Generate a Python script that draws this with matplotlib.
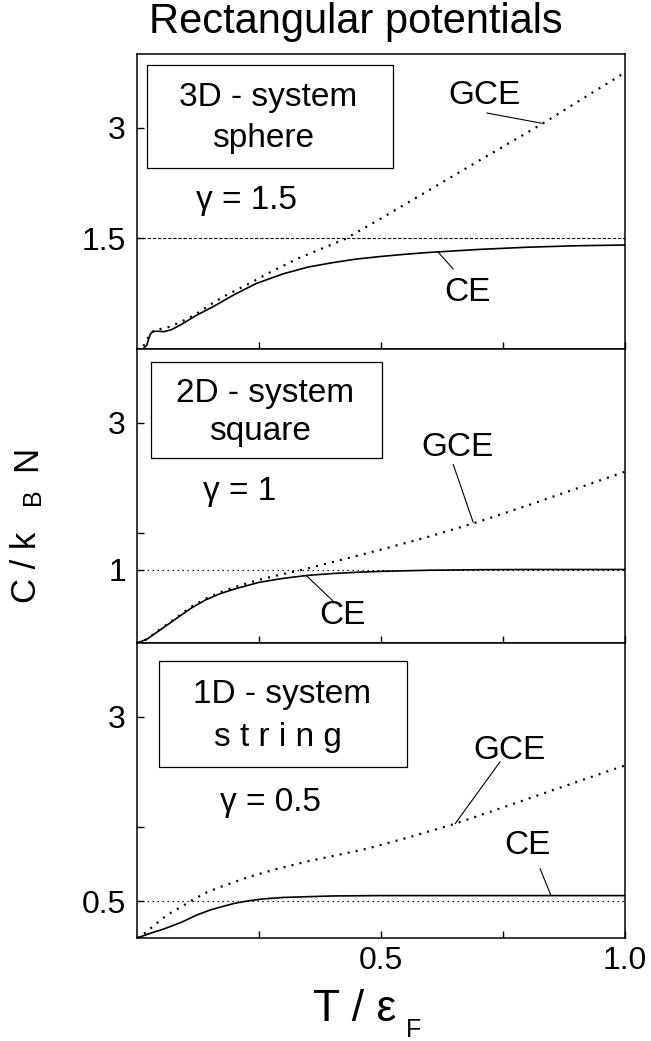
import matplotlib
matplotlib.use('Agg')
import matplotlib.pyplot as plt
from matplotlib.patches import Rectangle

plt.rcParams['font.family'] = ['Liberation Sans', 'DejaVu Sans']

# ---- data (T / eps_F , C / k_B N) ----
# 3D - system, sphere
x_ce_3d = [0.0, 0.012, 0.02, 0.027, 0.033, 0.045, 0.055, 0.07, 0.09, 0.12, 0.156, 0.20,
           0.245, 0.30, 0.35, 0.40, 0.45, 0.50, 0.55, 0.60, 0.70, 0.80, 0.90, 1.0]
y_ce_3d = [0.0, 0.0, 0.05, 0.2, 0.24, 0.24, 0.235, 0.26, 0.33, 0.45, 0.574, 0.74,
           0.89, 1.02, 1.11, 1.17, 1.22, 1.255, 1.285, 1.31, 1.35, 1.38, 1.40, 1.41]
x_gce_3d = [0.0, 0.01, 0.018, 0.03, 0.047, 0.066, 0.084, 0.10, 0.12, 0.15, 0.18, 0.225,
            0.27, 0.327, 0.426, 0.5, 0.6, 0.7, 0.832, 0.9, 1.0]
y_gce_3d = [0.0, 0.0, 0.1, 0.23, 0.27, 0.30, 0.35, 0.40, 0.47, 0.60, 0.72, 0.87,
            1.03, 1.22, 1.49, 1.77, 2.16, 2.55, 3.06, 3.34, 3.75]

# 2D - system, square
x_ce_2d = [0.0, 0.02, 0.05, 0.08, 0.11, 0.14, 0.17, 0.2, 0.25, 0.3, 0.35, 0.4, 0.45,
           0.5, 0.6, 0.7, 0.8, 1.0]
y_ce_2d = [0.0, 0.05, 0.19, 0.33, 0.47, 0.585, 0.67, 0.735, 0.825, 0.88, 0.92, 0.945,
           0.962, 0.975, 0.99, 0.997, 1.0, 1.0]
x_gce_2d = [0.0, 0.02, 0.05, 0.08, 0.11, 0.14, 0.17, 0.2, 0.25, 0.3, 0.341, 0.4, 0.5,
            0.6, 0.7, 0.8, 0.9, 1.0]
y_gce_2d = [0.0, 0.05, 0.2, 0.34, 0.49, 0.60, 0.69, 0.76, 0.86, 0.94, 1.0, 1.10, 1.27,
            1.45, 1.65, 1.87, 2.10, 2.33]

# 1D - system, string
x_ce_1d = [0.0, 0.03, 0.054, 0.09, 0.122, 0.15, 0.177, 0.2, 0.225, 0.259, 0.3, 0.35,
           0.4, 0.5, 0.6, 0.8, 1.0]
y_ce_1d = [0.0, 0.07, 0.12, 0.21, 0.31, 0.38, 0.43, 0.47, 0.50, 0.53, 0.55, 0.56,
           0.57, 0.575, 0.575, 0.575, 0.575]
x_gce_1d = [0.0, 0.017, 0.035, 0.061, 0.09, 0.115, 0.14, 0.17, 0.2, 0.225, 0.283, 0.35,
            0.471, 0.56, 0.652, 0.75, 0.85, 1.0]
y_gce_1d = [0.0, 0.07, 0.17, 0.31, 0.42, 0.52, 0.61, 0.69, 0.76, 0.82, 0.93, 1.04,
            1.21, 1.37, 1.55, 1.77, 2.0, 2.34]

gammas = [1.5, 1, 0.5]
gamma_labels = ['1.5', '1', '0.5']
box_lines = [('3D - system', 'sphere'), ('2D - system', 'square'), ('1D - system', 's t r i n g')]

W, H = 651, 1041
fig = plt.figure(figsize=(W / 100, H / 100), dpi=100)

def fx(p):
    return p / W

def fy(p):
    return 1 - p / H

# layout per panel (pixel based)
panels = [
    dict(top=54, bot=349, x_ce=x_ce_3d, y_ce=y_ce_3d, x_gce=x_gce_3d, y_gce=y_gce_3d,
         ref_ls=(0, (3.0, 1.6)),
         box=(0.0205, 0.6136, 0.504, 0.349), t1=(0.268, 0.851), t2=(0.258, 0.715),
         gam=(0.225, 0.505),
         gce_lab=(0.713, 3.44), gce_lead=((0.717, 3.20), (0.830, 3.06)),
         ce_lab=(0.678, 0.76), ce_lead=((0.648, 1.085), (0.617, 1.315))),
    dict(top=349, bot=643, x_ce=x_ce_2d, y_ce=y_ce_2d, x_gce=x_gce_2d, y_gce=y_gce_2d,
         ref_ls=(0, (1.3, 3.2)),
         box=(0.0287, 0.629, 0.473, 0.327), t1=(0.262, 0.850), t2=(0.252, 0.721),
         gam=(0.211, 0.514),
         gce_lab=(0.656, 2.66), gce_lead=((0.648, 2.43), (0.689, 1.64)),
         ce_lab=(0.42, 0.37), ce_lead=((0.402, 0.57), (0.348, 0.91))),
    dict(top=643, bot=938, x_ce=x_ce_1d, y_ce=y_ce_1d, x_gce=x_gce_1d, y_gce=y_gce_1d,
         ref_ls=(0, (1.3, 3.2)),
         box=(0.0451, 0.580, 0.508, 0.359), t1=(0.297, 0.824), t2=(0.289, 0.681),
         gam=(0.273, 0.458),
         gce_lab=(0.764, 2.54), gce_lead=((0.744, 2.39), (0.652, 1.55)),
         ce_lab=(0.80, 1.25), ce_lead=((0.826, 0.94), (0.848, 0.58))),
]

box_fs = 24
lab_fs = 24
tick_fs = 23

for i, p in enumerate(panels):
    ax = fig.add_axes([fx(137), fy(p['bot']), 488 / W, (p['bot'] - p['top']) / H])
    ax.set_xlim(0, 1.0)
    ax.set_ylim(0, 4.0)

    g = gammas[i]
    ax.axhline(g, color='black', lw=0.8, linestyle=p['ref_ls'])
    ax.plot(p['x_gce'], p['y_gce'], color='black', lw=1.6, linestyle=(0, (0.9, 2.8)))
    ax.plot(p['x_ce'], p['y_ce'], color='black', lw=1.2)

    # y ticks: 1.5 and 3, label at gamma and 3
    ax.set_yticks([g, 3])
    ax.set_yticklabels([gamma_labels[i], '3'])
    ax.set_yticks([1.5], minor=True)
    ax.set_xticks([0.25, 0.5, 0.75, 1.0])
    if i == 2:
        ax.set_xticklabels(['', '0.5', '', '1.0'])
    else:
        ax.set_xticklabels([])
    ax.tick_params(which='both', direction='in', length=5, width=1.0, labelsize=tick_fs)
    ax.tick_params(axis='y', pad=8)
    ax.tick_params(axis='x', pad=6)
    for s in ax.spines.values():
        s.set_linewidth(1.1)

    # label box
    bx, by, bw, bh = p['box']
    ax.add_patch(Rectangle((bx, by), bw, bh, transform=ax.transAxes, fill=False,
                           lw=0.9, ec='black'))
    ax.text(*p['t1'], box_lines[i][0], transform=ax.transAxes, ha='center', va='center',
            fontsize=box_fs)
    ax.text(*p['t2'], box_lines[i][1], transform=ax.transAxes, ha='center', va='center',
            fontsize=box_fs)
    ax.text(*p['gam'], 'γ = ' + gamma_labels[i], transform=ax.transAxes, ha='center',
            va='center', fontsize=24)

    # curve labels with leader lines
    ax.text(*p['gce_lab'], 'GCE', ha='center', va='center', fontsize=lab_fs)
    ax.text(*p['ce_lab'], 'CE', ha='center', va='center', fontsize=lab_fs)
    for lead in (p['gce_lead'], p['ce_lead']):
        ax.annotate('', xy=lead[1], xytext=lead[0],
                    arrowprops=dict(arrowstyle='-', lw=0.8, color='black',
                                    shrinkA=0, shrinkB=0))

# title
fig.text(fx(356), fy(33), 'Rectangular potentials', ha='center', va='baseline', fontsize=30)

# x label: T / eps_F
fig.text(fx(313), fy(1021), 'T / ε', ha='left', va='baseline', fontsize=32)
fig.text(fx(406), fy(1037), 'F', ha='left', va='baseline', fontsize=18)

# y label: C / k_B N
fig.text(fx(36), fy(603), 'C / k', rotation=90, rotation_mode='anchor', ha='left',
         va='baseline', fontsize=25)
fig.text(fx(40), fy(505), 'B', rotation=90, rotation_mode='anchor', ha='left',
         va='baseline', fontsize=18)
fig.text(fx(36), fy(471), 'N', rotation=90, rotation_mode='anchor', ha='left',
         va='baseline', fontsize=25)

fig.savefig('out.png', dpi=100)
